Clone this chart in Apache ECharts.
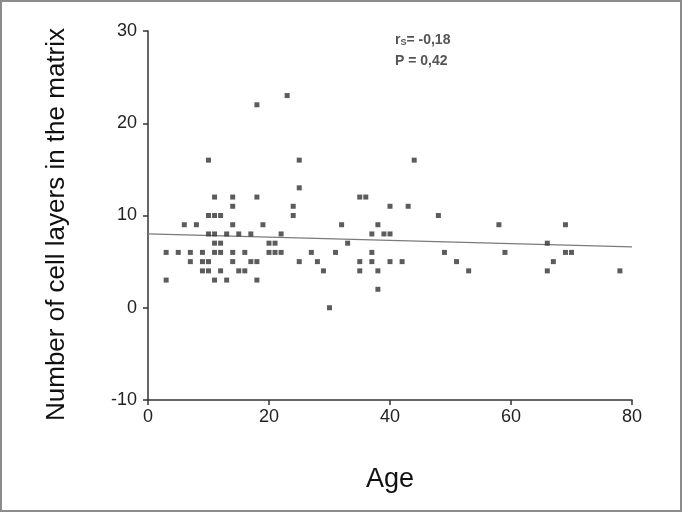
<!DOCTYPE html>
<html>
<head>
<meta charset="utf-8">
<script src="https://cdn.jsdelivr.net/npm/echarts@6/dist/echarts.min.js"></script>
<style>
  html, body { margin: 0; padding: 0; background: #fff; }
  #chart { width: 682px; height: 512px; }
</style>
</head>
<body>
<div id="chart"></div>
<script>
// Scatter data: age (years) and number of cell layers in the matrix
const ages = [3, 3, 5, 6, 7, 7, 8, 9, 9, 9,
  10, 10, 10, 10, 10,
  11, 11, 11, 11, 11, 11,
  12, 12, 12, 12,
  13, 13,
  14, 14, 14, 14, 14,
  15, 15,
  16, 16,
  17, 17,
  18, 18, 18, 18,
  19,
  20, 20, 21, 21, 22, 22,
  23, 24, 24, 25, 25, 25,
  27, 28, 29, 30, 31, 32, 33,
  35, 35, 35, 36,
  37, 37, 37, 38, 38, 38,
  39, 40, 40, 40, 42, 43, 44,
  48, 49, 51, 53, 58, 59,
  66, 66, 67, 69, 69, 70, 78];
const layers = [6, 3, 6, 9, 6, 5, 9, 6, 5, 4,
  16, 10, 8, 5, 4,
  12, 10, 8, 7, 6, 3,
  10, 7, 6, 4,
  8, 3,
  12, 11, 9, 6, 5,
  8, 4,
  6, 4,
  8, 5,
  22, 12, 5, 3,
  9,
  7, 6, 7, 6, 8, 6,
  23, 11, 10, 16, 13, 5,
  6, 5, 4, 0, 6, 9, 7,
  12, 5, 4, 12,
  8, 6, 5, 9, 4, 2,
  8, 11, 8, 5, 5, 11, 16,
  10, 6, 5, 4, 9, 6,
  7, 4, 5, 9, 6, 6, 4];

// Regression line end points
const fitX = [0, 80];
const fitY = [8.0, 6.6];

// Axis ticks
const xTicks = [0, 20, 40, 60, 80];
const yTicks = [-10, 0, 10, 20, 30];

const points = ages.map((a, i) => [a, layers[i]]);
const fitLine = fitX.map((x, i) => [x, fitY[i]]);

const chart = echarts.init(document.getElementById('chart'));
const axisColor = '#333';
chart.setOption({
  animation: false,
  backgroundColor: '#fff',
  grid: { left: 148, right: 50, top: 31, bottom: 112, containLabel: false },
  xAxis: {
    type: 'value',
    min: xTicks[0], max: xTicks[xTicks.length - 1], interval: 20,
    name: 'Age',
    nameLocation: 'middle',
    nameGap: 66,
    nameTextStyle: { fontFamily: 'Liberation Sans', fontSize: 27, color: '#111' },
    axisLine: { show: true, onZero: false, lineStyle: { color: axisColor, width: 1.5 } },
    axisTick: { show: true, length: 5, lineStyle: { color: axisColor, width: 1.5 } },
    axisLabel: { margin: 8, fontFamily: 'Liberation Sans', fontSize: 18, color: '#222' },
    splitLine: { show: false }
  },
  yAxis: {
    type: 'value',
    min: yTicks[0], max: yTicks[yTicks.length - 1], interval: 10,
    name: 'Number of cell layers in the matrix',
    nameLocation: 'middle',
    nameGap: 78,
    nameRotate: 90,
    nameTextStyle: { fontFamily: 'Liberation Sans', fontSize: 26, color: '#111', padding: [0, 18, 0, 0] },
    axisLine: { show: true, onZero: false, lineStyle: { color: axisColor, width: 1.5 } },
    axisTick: { show: true, length: 5, lineStyle: { color: axisColor, width: 1.5 } },
    axisLabel: { margin: 11, fontFamily: 'Liberation Sans', fontSize: 18, color: '#222' },
    splitLine: { show: false }
  },
  graphic: [
    {
      type: 'rect',
      shape: { x: 1, y: 1, width: 680, height: 510 },
      style: { fill: 'none', stroke: '#8c8c8c', lineWidth: 2 },
      silent: true
    },
    {
      type: 'text',
      left: 395, top: 33,
      style: {
        text: '{r|r}{s|S}{r|= -0,18}',
        rich: {
          r: { fontFamily: 'Liberation Sans', fontWeight: 'bold', fontSize: 14, fill: '#555' },
          s: { fontFamily: 'Liberation Sans', fontWeight: 'bold', fontSize: 9, fill: '#555', verticalAlign: 'bottom', padding: [6, 0, 0, 0] }
        }
      }
    },
    {
      type: 'text',
      left: 395, top: 54,
      style: {
        text: 'P = 0,42',
        fontFamily: 'Liberation Sans', fontWeight: 'bold', fontSize: 14, fill: '#555'
      }
    }
  ],
  series: [
    {
      type: 'line',
      data: fitLine,
      showSymbol: false,
      symbol: 'none',
      lineStyle: { color: '#7a7a7a', width: 1.3 },
      z: 1
    },
    {
      type: 'scatter',
      data: points,
      symbol: 'rect',
      symbolSize: 5,
      itemStyle: { color: '#333' },
      z: 2
    }
  ]
});
</script>
</body>
</html>
